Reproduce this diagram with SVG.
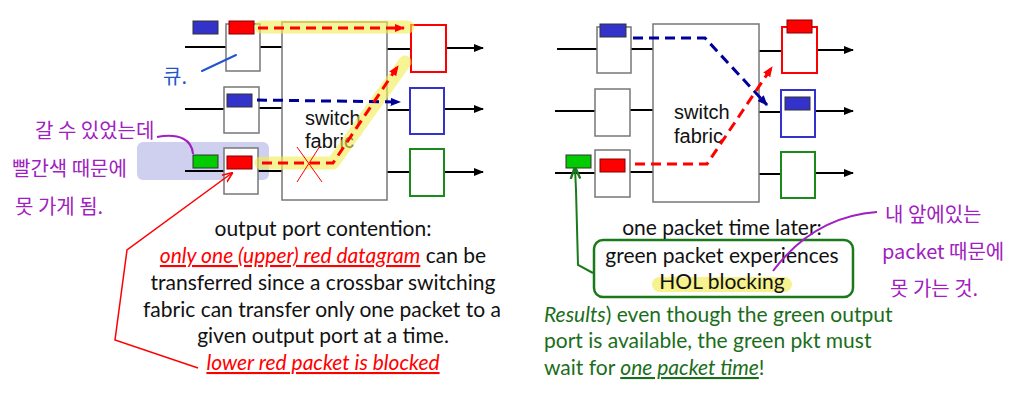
<svg xmlns="http://www.w3.org/2000/svg" width="1032" height="406" viewBox="0 0 1032 406">
<style>
.box{fill:#fff;stroke:#777;stroke-width:1.5}
.fab{fill:#fff;stroke:#777;stroke-width:1.5}
.ln{stroke:#000;stroke-width:2;fill:none}
.pb{fill:#3333cc;stroke:#333;stroke-width:1}
.pr{fill:#ff0000;stroke:#800;stroke-width:1}
.pg{fill:#00cc00;stroke:#333;stroke-width:1}
.dr{stroke:#ff0000;stroke-width:3;stroke-dasharray:10,6;fill:none}
.db{stroke:#000099;stroke-width:3;stroke-dasharray:10,6;fill:none}
.hl{stroke:#f2ec50;stroke-opacity:0.6;stroke-width:13;fill:none;stroke-linecap:round;stroke-linejoin:round}
.t{font-family:Lato,"Open Sans",sans-serif;font-size:21px;fill:#111}
.sf{font-family:"Liberation Sans",Arial,sans-serif;font-size:20px;fill:#111}
.red{fill:#ff0000;font-style:italic;text-decoration:underline}
.gr{font-family:Lato,"Open Sans",sans-serif;font-size:21px;fill:#1a6e1a}
.hw{font-family:"Noto Sans CJK KR",sans-serif;font-size:20px;fill:#a020c0}
</style>
<defs>
<marker id="ak" viewBox="0 0 10 10" refX="9" refY="5" markerWidth="5" markerHeight="5" orient="auto"><path d="M0,1 L10,5 L0,9 z" fill="#000"/></marker>
<marker id="ar" viewBox="0 0 10 10" refX="9" refY="5" markerWidth="3.5" markerHeight="3.5" orient="auto"><path d="M0,1 L10,5 L0,9 z" fill="#ff0000"/></marker>
<marker id="ab" viewBox="0 0 10 10" refX="9" refY="5" markerWidth="3.5" markerHeight="3.5" orient="auto"><path d="M0,1 L10,5 L0,9 z" fill="#000099"/></marker>
<marker id="arl" viewBox="0 0 10 10" refX="9" refY="5" markerWidth="7" markerHeight="7" orient="auto"><path d="M0,1 L10,5 L0,9" fill="none" stroke="#ff0000" stroke-width="1.5"/></marker>
<marker id="agl" viewBox="0 0 10 10" refX="9" refY="5" markerWidth="6" markerHeight="6" orient="auto"><path d="M0,1 L10,5 L0,9" fill="none" stroke="#1a7a1a" stroke-width="2"/></marker>
</defs>

<!-- LEFT DIAGRAM -->
<rect x="137" y="142" width="132" height="38" rx="6" fill="#cfd0f0"/>
<g id="connectors-left">
<line class="ln" x1="185" y1="47" x2="226" y2="47"/>
<line class="ln" x1="260" y1="47" x2="282" y2="47"/>
<line class="ln" x1="185" y1="109" x2="224" y2="109"/>
<line class="ln" x1="259" y1="108" x2="282" y2="108"/>
<line class="ln" x1="185" y1="171" x2="224" y2="171"/>
<line class="ln" x1="258" y1="171" x2="282" y2="171"/>
<line class="ln" x1="387" y1="49" x2="411" y2="49"/>
<line class="ln" x1="387" y1="110" x2="410" y2="110"/>
<line class="ln" x1="387" y1="172" x2="410" y2="172"/>
<line class="ln" x1="446" y1="48" x2="483" y2="48" marker-end="url(#ak)"/>
<line class="ln" x1="444" y1="109" x2="483" y2="109" marker-end="url(#ak)"/>
<line class="ln" x1="444" y1="172" x2="483" y2="172" marker-end="url(#ak)"/>
</g>
<g id="fabric-left"><rect class="fab" x="282" y="22" width="105" height="178"/>
<text class="sf" x="305" y="125">switch</text><text class="sf" x="305" y="148">fabric</text></g>
<g id="in1-left"><rect class="box" x="226" y="24" width="34" height="47"/><rect class="pr" x="229" y="21" width="25" height="13"/><rect class="pb" x="193" y="21" width="25" height="13"/></g>
<g id="in2-left"><rect class="box" x="224" y="87" width="35" height="46"/><rect class="pb" x="227" y="94" width="25" height="13"/></g>
<g id="in3-left"><rect class="box" x="224" y="148" width="34" height="46"/><rect class="pr" x="227" y="156" width="25" height="13"/><rect class="pg" x="193" y="155" width="25" height="13"/></g>
<g id="out1-left"><rect x="411" y="25" width="35" height="47" fill="#fff" stroke="#ff0000" stroke-width="2"/></g>
<g id="out2-left"><rect x="410" y="88" width="34" height="46" fill="#fff" stroke="#3333cc" stroke-width="2"/></g>
<g id="out3-left"><rect x="410" y="149" width="34" height="47" fill="#fff" stroke="#1a8a1a" stroke-width="2"/></g>
<g id="flows-left">
<path class="hl" d="M261,27 H408"/>
<path class="hl" d="M261,163 H333 L405,62"/>
<path class="dr" d="M258,28 H404" marker-end="url(#ar)"/>
<path class="db" d="M257,100 L400,102" marker-end="url(#ab)"/>
<path class="dr" d="M262,163 H333 L398,66" marker-end="url(#ar)"/>
<line x1="297" y1="147" x2="322" y2="182" stroke="#ff0000" stroke-width="1"/>
<line x1="320" y1="146" x2="297" y2="182" stroke="#ff0000" stroke-width="1"/>
<polyline points="198,368 115,340 127,250 232,173" fill="none" stroke="#ff0000" stroke-width="1.5" marker-end="url(#arl)"/>
</g>

<!-- left annotations -->
<path d="M202,71 L236,55" stroke="#2255cc" stroke-width="2" fill="none" stroke-linecap="round"/>
<text x="163" y="84" font-family="'Noto Sans CJK KR',sans-serif" font-size="20" fill="#2255cc">큐.</text>
<path d="M157,137 C180,133 192,140 193,154" stroke="#a020c0" stroke-width="2" fill="none"/>
<text class="hw" x="35" y="138">갈 수 있었는데</text>
<text class="hw" x="12" y="176">빨간색 때문에</text>
<text class="hw" x="15" y="214">못 가게 됨.</text>

<g id="caption-left" text-anchor="middle">
<text class="t" x="323" y="236">output port contention:</text>
<text class="t" x="323" y="263"><tspan class="red">only one (upper) red datagram</tspan> can be</text>
<text class="t" x="323" y="290">transferred since a crossbar switching</text>
<text class="t" x="322" y="317">fabric can transfer only one packet to a</text>
<text class="t" x="323" y="343">given output port at a time.</text>
<text class="t red" x="323" y="370">lower red packet is blocked</text>
</g>

<!-- RIGHT DIAGRAM -->
<g id="connectors-right">
<line class="ln" x1="557" y1="49" x2="597" y2="49"/>
<line class="ln" x1="631" y1="49" x2="653" y2="49"/>
<line class="ln" x1="555" y1="111" x2="595" y2="111"/>
<line class="ln" x1="628" y1="110" x2="653" y2="110"/>
<line class="ln" x1="555" y1="173" x2="595" y2="173"/>
<line class="ln" x1="630" y1="172" x2="653" y2="172"/>
<line class="ln" x1="759" y1="51" x2="782" y2="51"/>
<line class="ln" x1="757" y1="112" x2="781" y2="112"/>
<line class="ln" x1="757" y1="174" x2="781" y2="174"/>
<line class="ln" x1="817" y1="50" x2="853" y2="50" marker-end="url(#ak)"/>
<line class="ln" x1="815" y1="111" x2="853" y2="111" marker-end="url(#ak)"/>
<line class="ln" x1="815" y1="173" x2="853" y2="173" marker-end="url(#ak)"/>
</g>
<g id="fabric-right"><rect class="fab" x="653" y="24" width="106" height="178"/>
<text class="sf" x="674" y="119">switch</text><text class="sf" x="674" y="143">fabric</text></g>
<g id="in1-right"><rect class="box" x="597" y="27" width="34" height="46"/><rect class="pb" x="600" y="24" width="26" height="13"/></g>
<g id="in2-right"><rect class="box" x="595" y="89" width="35" height="47"/></g>
<g id="in3-right"><rect class="box" x="595" y="150" width="35" height="47"/><rect class="pr" x="600" y="159" width="25" height="13"/><rect class="pg" x="566" y="155" width="25" height="13"/></g>
<g id="out1-right"><rect x="782" y="27" width="35" height="46" fill="#fff" stroke="#ff0000" stroke-width="2"/><rect class="pr" x="787" y="20" width="25" height="13"/></g>
<g id="out2-right"><rect x="781" y="90" width="34" height="47" fill="#fff" stroke="#3333cc" stroke-width="2"/><rect class="pb" x="785" y="97" width="25" height="13"/></g>
<g id="out3-right"><rect x="781" y="152" width="34" height="46" fill="#fff" stroke="#1a8a1a" stroke-width="2"/></g>
<g id="flows-right">
<path class="db" d="M633,38 H705 L767,105" marker-end="url(#ab)"/>
<path class="dr" d="M635,164 H707 L772,67" marker-end="url(#ar)"/>
<polyline points="593,273 578,265 576,190 575,168" fill="none" stroke="#1a7a1a" stroke-width="2" marker-end="url(#agl)"/>
</g>

<g id="hol-box">
<rect x="594" y="240" width="259" height="57" rx="9" fill="#fff" stroke="#1a7a1a" stroke-width="2.5"/>
<rect x="652" y="277" width="140" height="15" rx="7.5" fill="#f5f07a" opacity="0.85"/>
<text class="t" x="722" y="263" text-anchor="middle">green packet experiences</text>
<text class="t" x="722" y="289" text-anchor="middle">HOL blocking</text>
</g>
<text class="t" x="722" y="235" text-anchor="middle">one packet time later:</text>
<g id="result-text">
<text class="gr" x="544" y="322"><tspan font-style="italic">Results</tspan>) even though the green output</text>
<text class="gr" x="544" y="348">port is available, the green pkt must</text>
<text class="gr" x="544" y="375">wait for <tspan font-style="italic" text-decoration="underline">one packet time</tspan>!</text>
</g>

<path d="M773,271 C800,235 835,215 877,212" stroke="#a020c0" stroke-width="2" fill="none"/>
<text class="hw" x="885" y="222">내 앞에있는</text>
<text class="hw" x="882" y="259">packet 때문에</text>
<text class="hw" x="890" y="296">못 가는 것.</text>
</svg>
